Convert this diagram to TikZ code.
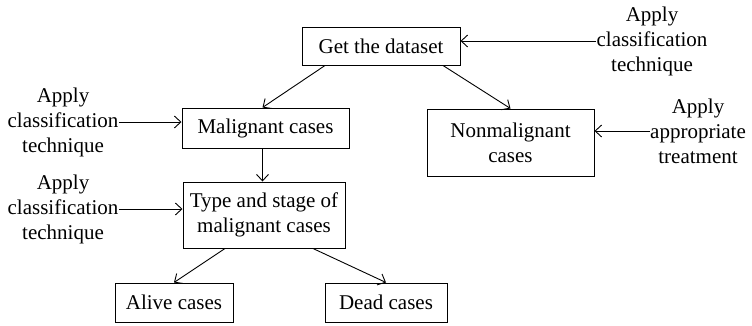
\documentclass[tikz,border=0pt]{standalone}
\usepackage{fontspec}
\setmainfont{Liberation Serif}
\usetikzlibrary{positioning,arrows,arrows.meta}
\tikzset{box/.style={draw, line width=1pt, align=center, inner sep=0pt},
    note/.style={align=center, inner sep=0pt}}

\begin{document}
\begin{tikzpicture}[x=1pt, y=-1pt, font=\fontsize{21}{25}\selectfont,
    line width=0.9pt, >={Straight Barb[length=6.5pt,width=12pt]}]
\useasboundingbox (0,0) rectangle (752,325);
% boxes
\node[box, minimum width=158pt, minimum height=38pt] (data) at (381,46) {Get the dataset};
\node[box, minimum width=167pt, minimum height=40pt] (malig) at (265.5,128) {Malignant cases};
\node[box, minimum width=167pt, minimum height=67pt] (nonmal) at (510.5,142.5) {Nonmalignant\\cases};
\node[box, minimum width=162pt, minimum height=66pt] (stage) at (264,215) {Type and stage of\\malignant cases};
\node[box, minimum width=118pt, minimum height=39pt] (alive) at (174,302.5) {Alive cases};
\node[box, minimum width=122pt, minimum height=39pt] (dead) at (386,302.5) {Dead cases};
% side notes
\node[note] (applyA) at (652,41) {Apply\\classification\\technique};
\node[note] (applyB) at (63,122) {Apply\\classification\\technique};
\node[note] (applyC) at (63,209) {Apply\\classification\\technique};
\node[note] (applyD) at (698,131) {Apply\\appropriate\\treatment};
% tree
\path[->]
  ([xshift=-56pt]data.south) edge ([xshift=-3pt]malig.north)
  ([xshift=62pt]data.south) edge (nonmal.north);
\path[->]
  ([xshift=-3pt]malig.south) edge ([xshift=-3pt]malig.south |- stage.north);
\path[->]
  ([xshift=-39pt]stage.south) edge (alive.north)
  ([xshift=49pt]stage.south) edge (dead.north);
% notes to boxes
\path[->]
  (applyA.west) edge (applyA.west -| data.east)
  (applyB.east) edge (applyB.east -| malig.west)
  (applyC.east) edge (applyC.east -| stage.west)
  (applyD.west) edge (applyD.west -| nonmal.east);
\end{tikzpicture}
\end{document}
